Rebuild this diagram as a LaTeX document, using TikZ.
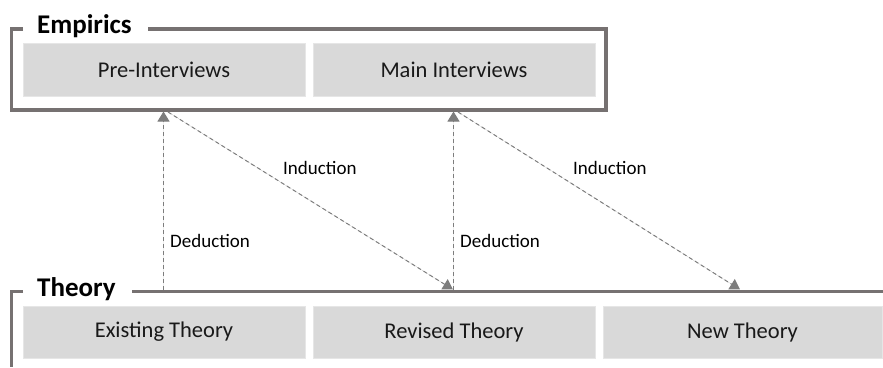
\documentclass[tikz,border=0pt]{standalone}
\usepackage{fontspec}
\setmainfont{Carlito}
\usetikzlibrary{arrows.meta}
\definecolor{framegray}{RGB}{118,113,113}
\definecolor{boxgray}{RGB}{217,217,217}
\definecolor{boxedge}{RGB}{230,230,230}
\definecolor{arrowgray}{RGB}{125,125,125}
\begin{document}
\begin{tikzpicture}[x=1pt,y=-1pt,
  boxnode/.style={fill=boxgray, draw=boxedge, line width=0.8pt, minimum height=53pt, inner sep=0pt,
    font=\fontsize{22.5}{27}\selectfont, text=black!90},
  frameline/.style={draw=framegray, line width=3.6pt},
  flowarrow/.style={draw=arrowgray, fill=arrowgray, line width=1pt, dash pattern=on 4pt off 3pt,
    -{Triangle[width=12pt,length=10pt,sep=0pt]}},
  titletext/.style={font=\fontsize{27}{32}\selectfont\bfseries, anchor=base west, inner sep=0pt},
  arrowlabel/.style={font=\fontsize{19}{23}\selectfont, anchor=base west, inner sep=0pt}]
\useasboundingbox (0,0) rectangle (883,367);

% Empirics frame
\draw[frameline] (23,29) -- (11.5,29) -- (11.5,109.8) -- (606,109.8) -- (606,29) -- (148,29);
% Theory frame
\draw[frameline] (883,291.5) -- (132,291.5);
\draw[frameline] (23,291.5) -- (11.5,291.5) -- (11.5,367);

\node[titletext] (emp) at (37,33.3) {Empirics};
\node[titletext] (theo) at (37,296) {Theory};

\node[boxnode, minimum width=282pt] (pre) at (164,69.5) {Pre-Interviews};
\node[boxnode, minimum width=282pt] (main) at (454,69.5) {Main Interviews};
\node[boxnode, minimum width=282pt, minimum height=52pt] (exist) at (164,332) {Existing Theory};
\node[boxnode, minimum width=282pt, minimum height=52pt] (rev) at (454,332) {Revised Theory};
\node[boxnode, minimum width=279pt, minimum height=52pt] (new) at (742.5,332) {New Theory};

\coordinate (d1s) at (163.5,290); \coordinate (d1e) at (163.5,111.5);
\coordinate (i1s) at (168,112);   \coordinate (i1e) at (453,289.5);
\coordinate (d2s) at (453.5,290); \coordinate (d2e) at (453.5,111.5);
\coordinate (i2s) at (458,112);   \coordinate (i2e) at (740,289.5);

\draw[flowarrow] (d1s) -- (d1e);
\draw[flowarrow] (i1s) -- (i1e);
\draw[flowarrow] (d2s) -- (d2e);
\draw[flowarrow] (i2s) -- (i2e);

\node[arrowlabel] (ded1) at (170,247.5) {Deduction};
\node[arrowlabel] (ind1) at (283,174) {Induction};
\node[arrowlabel] (ded2) at (460,247.5) {Deduction};
\node[arrowlabel] (ind2) at (573,174) {Induction};
\end{tikzpicture}
\end{document}
